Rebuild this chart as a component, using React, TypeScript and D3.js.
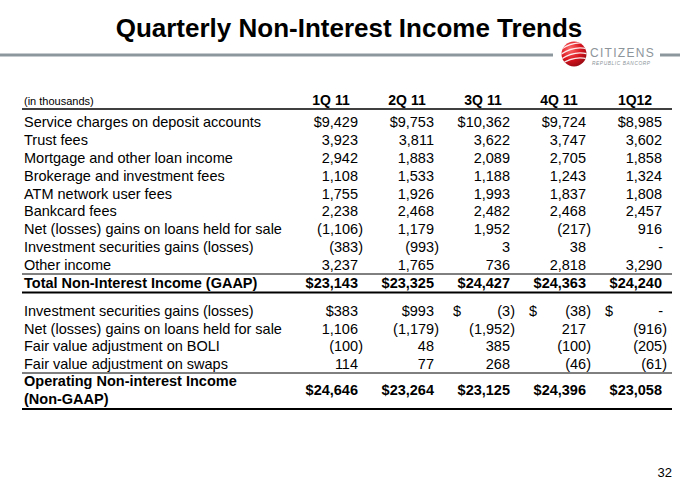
import React from 'react';
import * as d3 from 'd3';

// quarter headers
const quarters = ['1Q 11', '2Q 11', '3Q 11', '4Q 11', '1Q12'];

// first block: non-interest income lines (in thousands)
const incomeLabels = [
  'Service charges on deposit accounts',
  'Trust fees',
  'Mortgage and other loan income',
  'Brokerage and investment fees',
  'ATM network user fees',
  'Bankcard fees',
  'Net (losses) gains on loans held for sale',
  'Investment securities gains (losses)',
  'Other income',
];
const serviceCharges = [9429, 9753, 10362, 9724, 8985];
const trustFees = [3923, 3811, 3622, 3747, 3602];
const mortgageIncome = [2942, 1883, 2089, 2705, 1858];
const brokerageFees = [1108, 1533, 1188, 1243, 1324];
const atmFees = [1755, 1926, 1993, 1837, 1808];
const bankcardFees = [2238, 2468, 2482, 2468, 2457];
const netLoanGains = [-1106, 1179, 1952, -217, 916];
const securitiesGains = [-383, -993, 3, 38, 0];
const otherIncome = [3237, 1765, 736, 2818, 3290];
const totalGaap = [23143, 23325, 24427, 24363, 24240];

// second block: adjustments to operating income
const adjustLabels = [
  'Investment securities gains (losses)',
  'Net (losses) gains on loans held for sale',
  'Fair value adjustment on BOLI',
  'Fair value adjustment on swaps',
];
const adjSecurities = [383, 993, -3, -38, 0];
const adjLoans = [1106, -1179, -1952, 217, -916];
const adjBoli = [-100, 48, 385, -100, -205];
const adjSwaps = [114, 77, 268, -46, -61];
const operatingIncome = [24646, 23264, 23125, 24396, 23058];

const incomeRows = [serviceCharges, trustFees, mortgageIncome, brokerageFees, atmFees,
  bankcardFees, netLoanGains, securitiesGains, otherIncome];
const adjustRows = [adjSecurities, adjLoans, adjBoli, adjSwaps];

const FONT = '"Liberation Sans", Arial, Helvetica, sans-serif';
const fmt = d3.format(',');

// right edge of each value column
const xCol = d3.scalePoint<string>().domain(quarters).range([358, 662]);

const yIncome = d3.scalePoint<number>().domain(d3.range(incomeRows.length)).range([127, 270]);
const yAdjust = d3.scalePoint<number>().domain(d3.range(adjustRows.length)).range([316, 369]);

// one cell, accounting style: negatives in brackets hanging past the column edge
function Cell({ v, q, y, dollar, bold }: { v: number; q: string; y: number; dollar?: boolean; bold?: boolean }) {
  const right = xCol(q) as number;
  const w = bold ? 'bold' : 'normal';
  let txt = v < 0 ? '(' + fmt(-v) + ')' : v === 0 ? '-' : fmt(v);
  let x = v < 0 ? right + 5 : v === 0 ? right + 1 : right;
  let sep = false;
  if (dollar) {
    if (v > 0) txt = '$' + txt;
    else sep = true;
  }
  return (
    <g>
      {sep && <text x={right - 57} y={y} fontWeight={w}>$</text>}
      <text x={x} y={y} textAnchor="end" fontWeight={w}>{txt}</text>
    </g>
  );
}

function Logo() {
  const cx = 574, cy = 54, r = 12.5;
  return (
    <g>
      <defs>
        <radialGradient id="ball" cx="0.35" cy="0.3" r="0.8">
          <stop offset="0%" stopColor="#ff6b6b" />
          <stop offset="55%" stopColor="#d8141e" />
          <stop offset="100%" stopColor="#8e0a12" />
        </radialGradient>
        <clipPath id="ballClip"><circle cx={cx} cy={cy} r={r} /></clipPath>
      </defs>
      <circle cx={cx} cy={cy} r={r} fill="url(#ball)" />
      <g clipPath="url(#ballClip)" stroke="#fff" strokeWidth={1.3} fill="none" opacity={0.9}>
        {[-8, -3, 2, 7].map(d => (
          <path key={d} d={`M${cx - 14} ${cy + 4 + d} Q${cx} ${cy - 6 + d} ${cx + 14} ${cy - 2 + d}`} />
        ))}
      </g>
      <text x={590} y={57} fontFamily={FONT} fontSize={12} fill="#8d959b" letterSpacing={1.3}>CITIZENS</text>
      <text x={592} y={64.5} fontFamily={FONT} fontSize={4.8} fontStyle="italic" fill="#8d959b" letterSpacing={0.6}>REPUBLIC BANCORP</text>
    </g>
  );
}

export default function App() {
  const left = 24;
  return (
    <svg width={680} height={484} style={{ position: 'absolute', left: 0, top: 0, background: '#fff' }}
      fontFamily={FONT} fontSize={14.5} fill="#000">
      <text x={349} y={37} textAnchor="middle" fontSize={26} fontWeight="bold">Quarterly Non-Interest Income Trends</text>
      <line x1={0} x2={553} y1={55} y2={55} stroke="#8c979d" strokeWidth={3} />
      <line x1={660} x2={680} y1={55} y2={55} stroke="#8c979d" strokeWidth={3} />
      <Logo />

      <text x={left} y={105} fontSize={11}>(in thousands)</text>
      {quarters.map(q => (
        <text key={q} x={(xCol(q) as number) - 27} y={105} textAnchor="middle" fontWeight="bold" fontSize={14}>{q}</text>
      ))}
      <line x1={22} x2={672} y1={109} y2={109} stroke="#000" strokeWidth={1.5} />

      {incomeLabels.map((lab, i) => (
        <g key={lab + i}>
          <text x={left} y={yIncome(i)}>{lab}</text>
          {quarters.map((q, j) => (
            <Cell key={q} v={incomeRows[i][j]} q={q} y={yIncome(i) as number} dollar={i === 0} />
          ))}
        </g>
      ))}
      <line x1={22} x2={672} y1={274} y2={274} stroke="#000" strokeWidth={1} />
      <text x={left} y={288} fontWeight="bold">Total Non-Interest Income (GAAP)</text>
      {quarters.map((q, j) => (
        <Cell key={q} v={totalGaap[j]} q={q} y={288} dollar bold />
      ))}
      <line x1={22} x2={672} y1={292.5} y2={292.5} stroke="#000" strokeWidth={2} />

      {adjustLabels.map((lab, i) => (
        <g key={lab + i}>
          <text x={left} y={yAdjust(i)}>{lab}</text>
          {quarters.map((q, j) => (
            <Cell key={q} v={adjustRows[i][j]} q={q} y={yAdjust(i) as number} dollar={i === 0} />
          ))}
        </g>
      ))}
      <line x1={22} x2={672} y1={373} y2={373} stroke="#000" strokeWidth={1} />
      <text x={left} y={386} fontWeight="bold">Operating Non-interest Income</text>
      <text x={left} y={404} fontWeight="bold">(Non-GAAP)</text>
      {quarters.map((q, j) => (
        <Cell key={q} v={operatingIncome[j]} q={q} y={395} dollar bold />
      ))}
      <line x1={22} x2={672} y1={409} y2={409} stroke="#000" strokeWidth={2} />

      <text x={672} y={477} textAnchor="end" fontSize={13}>32</text>
    </svg>
  );
}
